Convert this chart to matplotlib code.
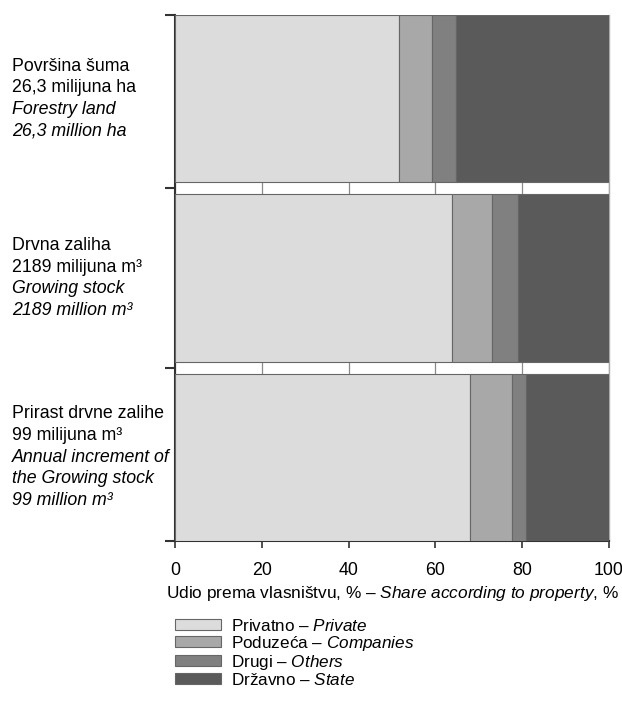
import matplotlib.pyplot as plt
import numpy as np

plt.rcParams['font.family'] = ['Liberation Sans', 'DejaVu Sans']
plt.rcParams['mathtext.fontset'] = 'custom'
plt.rcParams['mathtext.rm'] = 'Liberation Sans'
plt.rcParams['mathtext.it'] = 'Liberation Sans:italic'

# podaci (udio prema vlasništvu, %)
privatno = [51.6, 63.8, 68.0]
poduzeca = [7.5, 9.2, 9.6]
drugi = [5.6, 6.0, 3.3]
drzavno = [35.3, 21.0, 19.1]

row_labels = [
    [("Površina šuma", "normal"), ("26,3 milijuna ha", "normal"),
     ("Forestry land", "italic"), ("26,3 million ha", "italic")],
    [("Drvna zaliha", "normal"), ("2189 milijuna m³", "normal"),
     ("Growing stock", "italic"), ("2189 million m³", "italic")],
    [("Prirast drvne zalihe", "normal"), ("99 milijuna m³", "normal"),
     ("Annual increment of", "italic"), ("the Growing stock", "italic"),
     ("99 million m³", "italic")],
]
legend_labels = [r"Privatno – $\mathit{Private}$",
                 r"Poduzeća – $\mathit{Companies}$",
                 r"Drugi – $\mathit{Others}$",
                 r"Državno – $\mathit{State}$"]
colors = ["#dcdcdc", "#a8a8a8", "#808080", "#5a5a5a"]

fs = 12.8
fig = plt.figure(figsize=(6.22, 7.11), dpi=100)
ax = fig.add_axes([0.2814, 0.2391, 0.6977, 0.7398])

h = 0.955
g = (3 - 3 * h) / 2
ypos = np.array([h / 2 + i * (h + g) for i in range(3)])

left = np.zeros(3)
handles = []
for vals, c in zip([privatno, poduzeca, drugi, drzavno], colors):
    b = ax.barh(ypos, vals, height=h, left=left, color=c,
                edgecolor="#666666", linewidth=0.8, zorder=3)
    handles.append(b)
    left += np.array(vals)

ax.set_xlim(0, 100)
ax.set_ylim(3, 0)
ax.set_xticks([0, 20, 40, 60, 80, 100])
ax.set_yticks([0, h + g / 2, 2 * h + 1.5 * g, 3])
ax.set_yticklabels([])
ax.tick_params(axis="x", direction="out", length=5, width=1.2, labelsize=fs,
               pad=10, color="#333333")
ax.tick_params(axis="y", direction="out", length=7, width=1.5, color="#333333")
ax.xaxis.grid(True, color="#8a8a8a", linewidth=0.9, zorder=1)
ax.set_axisbelow(True)

for s in ["left", "bottom"]:
    ax.spines[s].set_color("#333333")
    ax.spines[s].set_linewidth(1.5)
ax.spines["top"].set_visible(False)
ax.spines["right"].set_color("#aaaaaa")
ax.spines["right"].set_linewidth(1.0)

ax.set_xlabel(r"Udio prema vlasništvu, % – $\mathit{Share\ according\ to\ property{,}\ \%}$",
              fontsize=12.4, labelpad=4)

# oznake redaka lijevo
step = 15.6
for yc, lines in zip(ypos, row_labels):
    n = len(lines)
    for k, (txt, style) in enumerate(lines):
        off = ((n - 1) / 2 - k) * step
        ax.annotate(txt, xy=(0.019, yc), xycoords=("figure fraction", "data"),
                    xytext=(0, off), textcoords="offset points",
                    ha="left", va="center", fontsize=fs, style=style,
                    annotation_clip=False)

fig.legend(handles, legend_labels, loc="upper left",
           bbox_to_anchor=(0.281, 0.131), frameon=False, fontsize=12.3,
           handlelength=2.7, handleheight=0.6, labelspacing=0.0,
           handletextpad=0.6, borderaxespad=0, borderpad=0)

fig.savefig("out.png", dpi=100)
